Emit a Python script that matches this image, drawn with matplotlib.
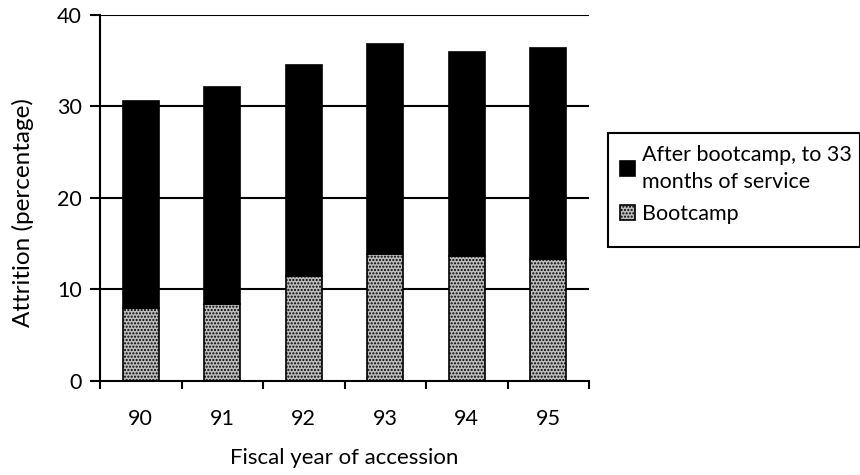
import matplotlib
matplotlib.use('Agg')
import matplotlib.pyplot as plt
from matplotlib.patches import Rectangle
import numpy as np

plt.rcParams['font.family'] = ['Lato', 'DejaVu Sans']
plt.rcParams['font.size'] = 15.5
plt.rcParams['hatch.color'] = '#444444'
plt.rcParams['hatch.linewidth'] = 1.0

###########################
# data
###########################
years = ['90', '91', '92', '93', '94', '95']
bootcamp = [8.0, 8.4, 11.5, 13.9, 13.7, 13.3]
total = [30.6, 32.1, 34.5, 36.8, 36.0, 36.4]
after_bootcamp = [t - b for t, b in zip(total, bootcamp)]

label_after = 'After bootcamp, to 33\nmonths of service'
label_boot = 'Bootcamp'

fig = plt.figure(figsize=(8.6, 4.75), dpi=100)
ax = fig.add_axes([0.1163, 0.198, 0.5686, 0.7705])

x = np.arange(len(years))
width = 0.44

# gridlines behind bars
for yv in [10, 20, 30, 40]:
    ax.axhline(yv, color='black', lw=1.5, zorder=0)

b1 = ax.bar(x, bootcamp, width, color='#bcbcbc', edgecolor='black', hatch='.....',
            lw=1.2, zorder=2, label=label_boot)
b2 = ax.bar(x, after_bootcamp, width, bottom=bootcamp, color='black', edgecolor='black',
            lw=1.2, zorder=2, label=label_after)

ax.set_xlim(-0.5, len(years) - 0.5)
ax.set_ylim(0, 40)
ax.set_yticks([0, 10, 20, 30, 40])

# ticks between categories, labels under the bars
ax.set_xticks(np.arange(-0.5, len(years)), minor=False)
ax.set_xticklabels([])
ax.set_xticks(x, minor=True)
ax.set_xticklabels(years, minor=True)
ax.tick_params(axis='x', which='major', direction='out', length=6, width=1.5)
ax.tick_params(axis='x', which='minor', length=0, pad=20)
ax.tick_params(axis='y', direction='out', length=7, width=1.5, pad=6)

for s in ['top', 'right']:
    ax.spines[s].set_visible(False)
for s in ['left', 'bottom']:
    ax.spines[s].set_linewidth(1.5)

ax.set_xlabel('Fiscal year of accession', labelpad=14, fontsize=16)
ax.set_ylabel('Attrition (percentage)', fontsize=17.5)
ax.yaxis.set_label_coords(-0.135, 0.46)

# legend box
fig.patches.append(Rectangle((608 / 860, 1 - 247 / 475), 252 / 860, 114 / 475,
                             transform=fig.transFigure, fill=False, edgecolor='black',
                             lw=1.5, clip_on=False))
leg = fig.legend([b2, b1], [label_after, label_boot], loc='upper left',
                 bbox_to_anchor=(611 / 860, 1 - 136 / 475), frameon=False,
                 handlelength=0.7, handleheight=0.7, handletextpad=0.35,
                 labelspacing=0.55, borderaxespad=0, fontsize=15.5)
for t in leg.get_texts():
    t.set_linespacing(1.45)

fig.savefig('out.png', dpi=100)
